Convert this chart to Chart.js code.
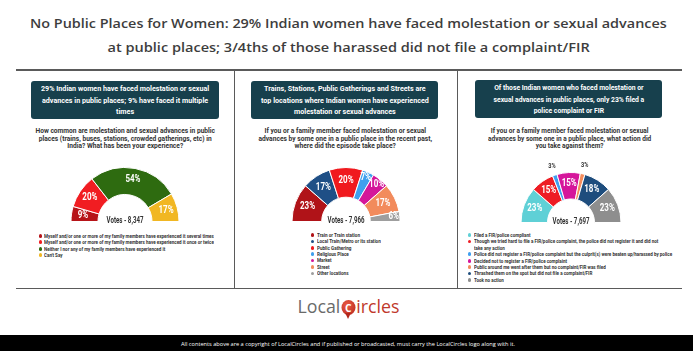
<!DOCTYPE html>
<html>
<head>
<meta charset="utf-8">
<script src="https://cdn.jsdelivr.net/npm/chart.js@4.4.0/dist/chart.umd.min.js"></script>
<style>
    html, body { margin: 0; padding: 0; background: #fff; }
    #page { position: relative; width: 693px; height: 351px; overflow: hidden; font-family: Roboto, sans-serif; }
    .t { position: absolute; white-space: nowrap; }
    .title { font: 600 13px 'Open Sans', sans-serif; color: #3d3d3d; line-height: 16px; }
    .head { font: 700 8px Roboto, sans-serif; color: #fff; line-height: 11.4px; text-align: center; }
    .quest { font: 700 7.4px Roboto, sans-serif; color: #333; line-height: 7.5px; text-align: center; }
    .leg { font: 700 5.6px Roboto, sans-serif; color: #333; line-height: 6.4px; }
    .foot { font: 400 6px 'Open Sans', sans-serif; color: #fff; line-height: 8px; }
    .rule { position: absolute; background: #5a5a5a; }
    .box { position: absolute; background: #17404d; border-radius: 3px; }
    .dot { position: absolute; width: 3.8px; height: 3.8px; border-radius: 50%; }
    #logo { font: 400 19px 'Open Sans', sans-serif; color: #6a6a6a; }
    #logo .red { color: #c0392b; }
    #logo .pin { display: inline-block; position: relative; width: 15px; height: 15px; border-radius: 50%;
        background: radial-gradient(circle at 40% 35%, #ec5a44, #b3261b); color: #fff; font: 700 11px 'Open Sans', sans-serif;
        line-height: 15px; text-align: center; vertical-align: 1px; margin: 0 1px; }
    #logo .pin:after { content: ''; position: absolute; left: 4px; top: 13px; border-left: 3.5px solid transparent;
        border-right: 3.5px solid transparent; border-top: 6px solid #b3261b; }
    #footer { position: absolute; left: 0; top: 335px; width: 693px; height: 16px; background: #000; }
</style>
</head>
<body>
<div id="page">
    <div class="rule" style="left:16px;top:69px;width:666px;height:1.5px"></div>
    <div class="rule" style="left:16px;top:287.5px;width:666px;height:1.5px"></div>
    <div class="rule" style="left:233.5px;top:70px;width:1.5px;height:218px"></div>
    <div class="rule" style="left:456.5px;top:70px;width:1.5px;height:218px"></div>
    <div id="footer"></div>
</div>
<script>
var titleLines = [
    'No Public Places for Women: 29% Indian women have faced molestation or sexual advances',
    'at public places; 3/4ths of those harassed did not file a complaint/FIR'
];

var headlines = [
    ['29% Indian women have faced molestation or sexual', 'advances in public places; 9% have faced it multiple', 'times'],
    ['Trains, Stations, Public Gatherings and Streets are', 'top locations where Indian women have experienced', 'molestation or sexual advances'],
    ['Of those Indian women who faced molestation or', 'sexual advances in public places, only 23% filed a', 'police complaint or FIR']
];

var questions = [
    ['How common are molestation and sexual advances in public', 'places (trains, buses, stations, crowded gatherings, etc) in', 'India? What has been your experience?'],
    ['If you or a family member faced molestation or sexual', 'advances by some one in a public place in the recent past,', 'where did the episode take place?'],
    ['If you or a family member faced molestation or sexual', 'advances by some one in a public place, what action did', 'you take against them?']
];

var votes = [8347, 7966, 7697];

// chart 1
var expLabels = [
    'Myself and/or one or more of my family members have experienced it several times',
    'Myself and/or one or more of my family members have experienced it once or twice',
    'Neither I nor any of my family members have experienced it',
    "Can't Say"
];
var expValues = [9, 20, 54, 17];
var expColors = ['#b71419', '#f11d22', '#2e6b10', '#f1b723'];

// chart 2
var placeLabels = [
    'Train or Train station',
    'Local Train/Metro or its station',
    'Public Gathering',
    'Religious Place',
    'Market',
    'Street',
    'Other locations'
];
var placeValues = [23, 17, 20, 7, 10, 17, 6];
var placeColors = ['#b01318', '#1f4f86', '#f0191e', '#3fa0ee', '#d4169a', '#f28b5c', '#9e9e9e'];

// chart 3
var actionLabels = [
    'Filed a FIR/police compliant',
    ['Though we tried hard to file a FIR/police complaint, the police did not register it and did not', 'take any action'],
    'Police did not register a FIR/police complaint but the culprit(s) were beaten up/harassed by police',
    'Decided not to register a FIR/police complaint',
    'Public around me went after them but no complaint/FIR was filed',
    'Thrashed them on the spot but did not file a complaint/FIR',
    'Took no action'
];
var actionValues = [23, 15, 3, 15, 3, 18, 23];
var actionColors = ['#5fd0d6', '#ee1c24', '#3f9ff0', '#d5169b', '#f48c5c', '#1e4d7d', '#8e8e8e'];

var footerText = 'All contents above are a copyright of LocalCircles and if published or broadcasted, must carry the LocalCircles logo along with it.';

var page = document.getElementById('page');

function addText(html, cls, left, top) {
    var el = document.createElement('div');
    el.className = 't ' + cls;
    el.innerHTML = html;
    el.style.left = left + 'px';
    el.style.top = top + 'px';
    page.appendChild(el);
    return el;
}

function squeezeCenter(el, cx, targetW) {
    var w = el.offsetWidth;
    el.style.left = (cx - w / 2) + 'px';
    el.style.transformOrigin = '50% 0';
    el.style.transform = 'scaleX(' + (targetW / w) + ')';
}

// title
squeezeCenter(addText(titleLines[0], 'title', 0, 15), 348.5, 637);
squeezeCenter(addText(titleLines[1], 'title', 0, 38.5), 348.5, 482);

var panels = [
    { cx: 125, box: [31, 81, 188, 38], headW: 168, qW: 180,
      donut: { cx: 125, cy: 221, r: 54, cut: '50%', padTop: 2, edgeBelow: 0, outsideBelow: 0 },
      leg: { dot: 40.5, x: 43.5, y: 236, step: 6.35, w: 170 } },
    { cx: 345, box: [251, 81, 187, 38], headW: 168, qW: 174,
      donut: { cx: 346, cy: 221, r: 54, cut: '45%', padTop: 2, edgeBelow: 11, outsideBelow: 0 },
      leg: { dot: 312.5, x: 317, y: 235, step: 6.4, w: 64 } },
    { cx: 569, box: [475, 80, 187, 38], headW: 151, qW: 163,
      donut: { cx: 571, cy: 222, r: 50, cut: '47%', padTop: 14, edgeBelow: 0, outsideBelow: 3 },
      leg: { dot: 469.5, x: 474, y: 235, step: 6.43, w: 198 } }
];

var sets = [
    { labels: expLabels, values: expValues, colors: expColors },
    { labels: placeLabels, values: placeValues, colors: placeColors },
    { labels: actionLabels, values: actionValues, colors: actionColors }
];

var sliceLabels = {
    id: 'sliceLabels',
    afterDatasetsDraw: function (chart, args, o) {
        var ctx = chart.ctx;
        var meta = chart.getDatasetMeta(0);
        var vals = chart.data.datasets[0].data;
        meta.data.forEach(function (arc, i) {
            var p = arc.getProps(['x', 'y', 'startAngle', 'endAngle', 'innerRadius', 'outerRadius']);
            var mid = (p.startAngle + p.endAngle) / 2;
            var v = vals[i];
            var r, color = '#fff', size = 10;
            if (v <= o.outsideBelow) {
                r = p.outerRadius + 9; color = '#333'; size = 7;
            } else if (v < o.edgeBelow) {
                r = p.outerRadius - 6;
            } else {
                r = (p.innerRadius + p.outerRadius) / 2 + 2;
            }
            ctx.save();
            ctx.translate(p.x + Math.cos(mid) * r, p.y + Math.sin(mid) * r);
            ctx.scale(0.8, 1);
            ctx.font = 'bold ' + size + 'px Roboto';
            ctx.fillStyle = color;
            ctx.textAlign = 'center';
            ctx.textBaseline = 'middle';
            ctx.fillText(v + '%', 0, 0);
            ctx.restore();
        });
        var a = meta.data[0];
        ctx.save();
        ctx.translate(a.x, a.y + 1);
        ctx.scale(0.72, 1);
        ctx.font = 'bold 8.5px Roboto';
        ctx.fillStyle = '#333';
        ctx.textAlign = 'center';
        ctx.textBaseline = 'alphabetic';
        ctx.fillText(o.votes, 0, 0);
        ctx.restore();
    }
};

panels.forEach(function (p, n) {
    // header box
    var b = document.createElement('div');
    b.className = 'box';
    b.style.cssText = 'left:' + p.box[0] + 'px;top:' + p.box[1] + 'px;width:' + p.box[2] + 'px;height:' + p.box[3] + 'px';
    page.appendChild(b);
    squeezeCenter(addText(headlines[n].join('<br>'), 'head', 0, p.box[1] + 2.3), p.box[0] + p.box[2] / 2, p.headW);
    squeezeCenter(addText(questions[n].join('<br>'), 'quest', 0, 127.2), p.cx, p.qW);

    // half donut
    var d = p.donut, padBottom = 4;
    var wrap = document.createElement('div');
    wrap.style.cssText = 'position:absolute;left:' + (d.cx - 90) + 'px;top:' + (d.cy - d.r - d.padTop) +
        'px;width:180px;height:' + (d.r + 1 + d.padTop + padBottom) + 'px';
    var cv = document.createElement('canvas');
    wrap.appendChild(cv);
    page.appendChild(wrap);
    var s = sets[n];
    new Chart(cv, {
        type: 'doughnut',
        data: {
            labels: s.labels,
            datasets: [{ data: s.values, backgroundColor: s.colors, borderColor: '#fff', borderWidth: 1 }]
        },
        options: {
            responsive: true,
            maintainAspectRatio: false,
            animation: false,
            rotation: -90,
            circumference: 180,
            cutout: d.cut,
            layout: { padding: { top: d.padTop, bottom: padBottom } },
            plugins: {
                legend: { display: false },
                tooltip: { enabled: false },
                sliceLabels: { votes: 'Votes - ' + votes[n].toLocaleString('en-US'), edgeBelow: d.edgeBelow, outsideBelow: d.outsideBelow }
            }
        },
        plugins: [sliceLabels]
    });

    // legend
    var L = p.leg, row = 0, els = [], maxW = 0;
    s.labels.forEach(function (lab, i) {
        var lines = Array.isArray(lab) ? lab : [lab];
        var dot = document.createElement('div');
        dot.className = 'dot';
        dot.style.background = s.colors[i];
        dot.style.left = (L.dot - 1.9) + 'px';
        dot.style.top = (L.y + row * L.step - 1.9) + 'px';
        page.appendChild(dot);
        lines.forEach(function (line) {
            var el = addText(line, 'leg', L.x, L.y + row * L.step - 3.2);
            maxW = Math.max(maxW, el.offsetWidth);
            els.push(el);
            row++;
        });
    });
    els.forEach(function (el) {
        el.style.transformOrigin = '0 0';
        el.style.transform = 'scaleX(' + (L.w / maxW) + ')';
    });
});

// logo
var logo = addText('Local<span class="pin">C</span><span class="red">ircles</span>', '', 0, 293);
logo.id = 'logo';
squeezeCenter(logo, 348, 102);

// footer
squeezeCenter(addText(footerText, 'foot', 0, 339.5), 348, 334);
</script>
</body>
</html>
